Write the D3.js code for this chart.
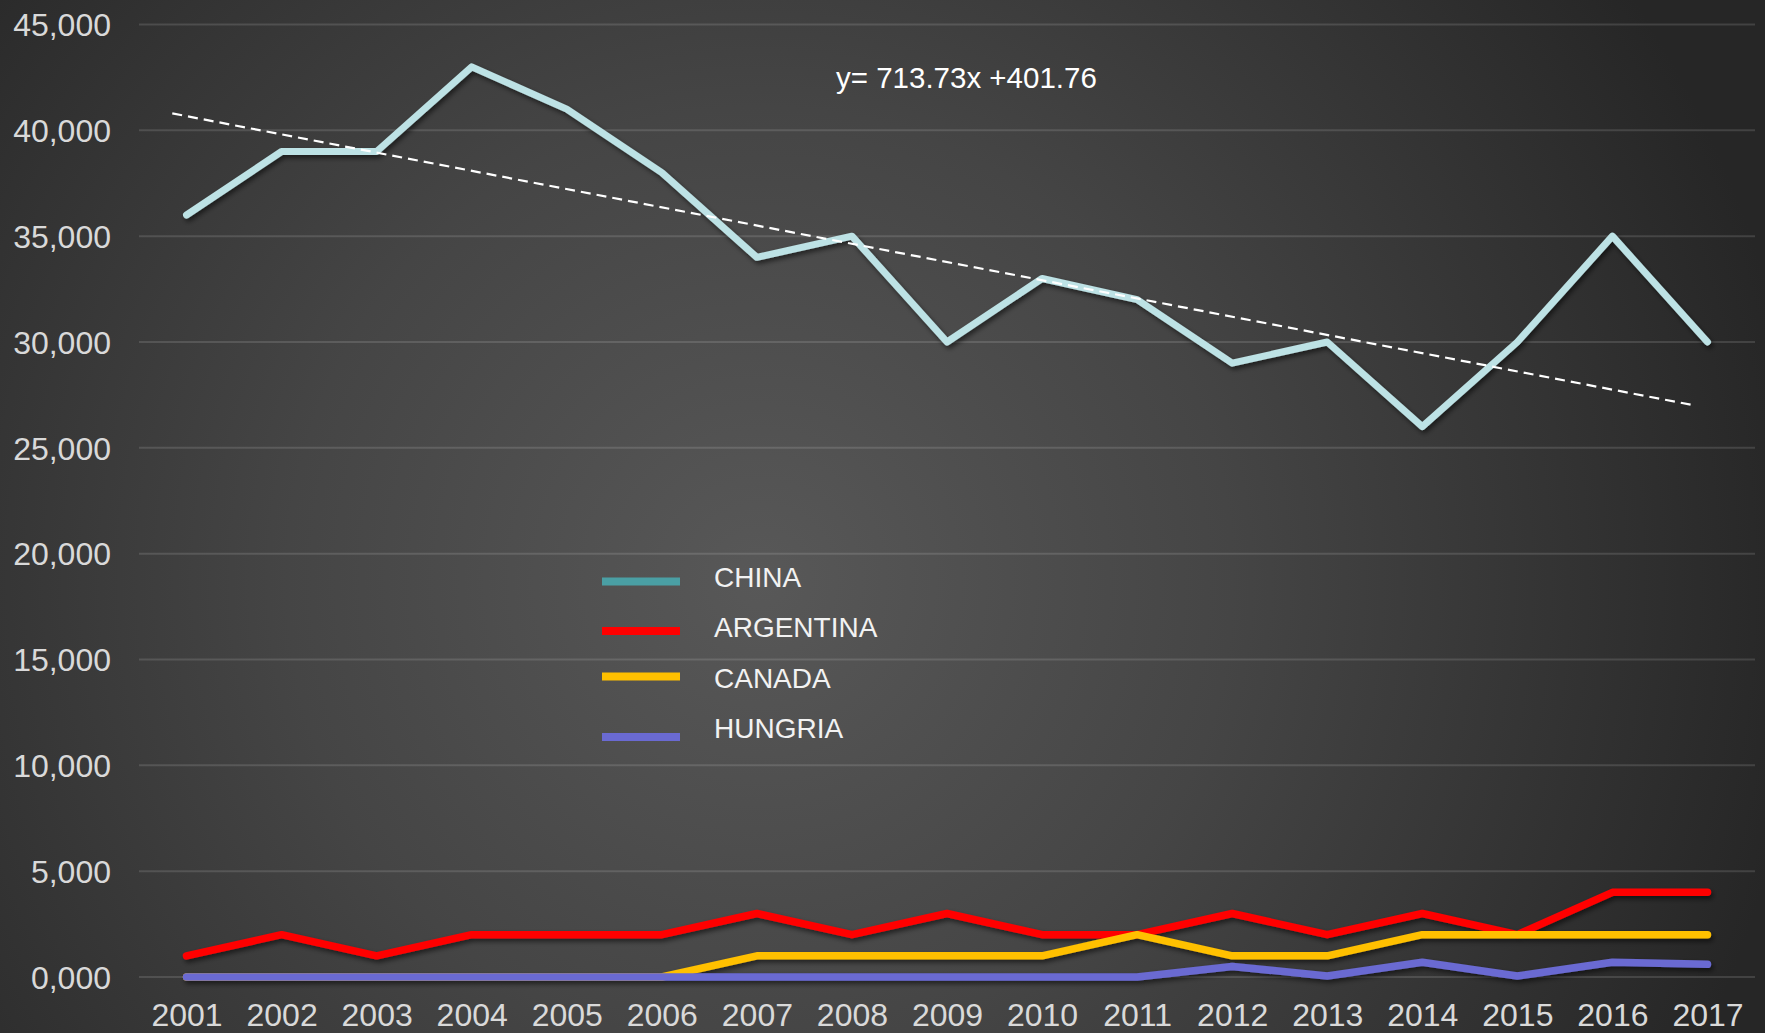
<!DOCTYPE html>
<html>
<head>
<meta charset="utf-8">
<script src="https://cdn.jsdelivr.net/npm/d3@7"></script>
<style>
  html, body { margin: 0; padding: 0; background: #2b2b2b; }
  svg { display: block; }
</style>
</head>
<body>
<svg id="chart" width="1765" height="1033"></svg>
<script>
// ---- DATA ----
const years = [2001, 2002, 2003, 2004, 2005, 2006, 2007, 2008, 2009, 2010, 2011, 2012, 2013, 2014, 2015, 2016, 2017];
const china     = [36000, 39000, 39000, 43000, 41000, 38000, 34000, 35000, 30000, 33000, 32000, 29000, 30000, 26000, 30000, 35000, 30000];
const argentina = [1000, 2000, 1000, 2000, 2000, 2000, 3000, 2000, 3000, 2000, 2000, 3000, 2000, 3000, 2000, 4000, 4000];
const canada    = [0, 0, 0, 0, 0, 0, 1000, 1000, 1000, 1000, 2000, 1000, 1000, 2000, 2000, 2000, 2000];
const hungria   = [0, 0, 0, 0, 0, 0, 0, 0, 0, 0, 0, 500, 50, 700, 50, 700, 600];
const seriesNames = ["CHINA", "ARGENTINA", "CANADA", "HUNGRIA"];
const yTicks = [0, 5000, 10000, 15000, 20000, 25000, 30000, 35000, 40000, 45000];
const yTickLabels = ["0,000", "5,000", "10,000", "15,000", "20,000", "25,000", "30,000", "35,000", "40,000", "45,000"];
const trendYears = [2000.85, 2016.87];
const trendValues = [40800, 27000];
const equationText = "y= 713.73x +401.76";

// ---- STYLES ----
const lineColors = ["#bde2e5", "#ff0000", "#ffc000", "#6a6ad2"];
const legendColors = ["#4a9fa4", "#ff0000", "#ffc000", "#6a6ad2"];
const lineWidths = [7, 7.5, 7.5, 7.5];

const svg = d3.select("#chart");
const W = 1765, H = 1033;
const plot = { left: 139, right: 1755, top: 24.5, bottom: 977 };

const defs = svg.append("defs");
const grad = defs.append("radialGradient")
  .attr("id", "bg").attr("gradientUnits", "userSpaceOnUse")
  .attr("cx", 760).attr("cy", 580).attr("r", 1050);
grad.append("stop").attr("offset", "0%").attr("stop-color", "#585858");
grad.append("stop").attr("offset", "45%").attr("stop-color", "#454545");
grad.append("stop").attr("offset", "100%").attr("stop-color", "#262626");

const filt = defs.append("filter").attr("id", "shadow")
  .attr("x", "-5%").attr("y", "-5%").attr("width", "110%").attr("height", "120%");
filt.append("feDropShadow").attr("dx", 2).attr("dy", 3).attr("stdDeviation", 2.5)
  .attr("flood-color", "#000").attr("flood-opacity", 0.55);

svg.append("rect").attr("width", W).attr("height", H).attr("fill", "url(#bg)");

const x = d3.scaleLinear().domain([2000.5, 2017.5]).range([plot.left, plot.right]);
const y = d3.scaleLinear().domain([0, 45000]).range([plot.bottom, plot.top]);

// gridlines
svg.append("g").selectAll("line").data(yTicks).join("line")
  .attr("x1", plot.left).attr("x2", plot.right)
  .attr("y1", d => y(d)).attr("y2", d => y(d))
  .attr("stroke", "rgba(255,255,255,0.13)").attr("stroke-width", 2);

// y axis
const yAxis = d3.axisLeft(y).tickValues(yTicks)
  .tickFormat((d, i) => yTickLabels[i]).tickSize(0).tickPadding(0);
const yg = svg.append("g").attr("transform", `translate(111,0)`).call(yAxis);
yg.select(".domain").remove();
yg.selectAll("text")
  .attr("fill", "#d9d9d9").attr("font-family", "Liberation Sans, Arial, sans-serif")
  .attr("font-size", 32).attr("dy", "0.35em");

// x axis
const xAxis = d3.axisBottom(x).tickValues(years).tickFormat(d3.format("d")).tickSize(0).tickPadding(0);
const xg = svg.append("g").attr("transform", `translate(0,${plot.bottom})`).call(xAxis);
xg.select(".domain").remove();
xg.selectAll("text")
  .attr("fill", "#d9d9d9").attr("font-family", "Liberation Sans, Arial, sans-serif")
  .attr("font-size", 32).attr("dy", null).attr("y", 49);

// series lines
const allSeries = [china, argentina, canada, hungria];
const line = d3.line().x((d, i) => x(years[i])).y(d => y(d));
const lg = svg.append("g").attr("filter", "url(#shadow)");
allSeries.forEach((s, k) => {
  lg.append("path").datum(s)
    .attr("d", line)
    .attr("fill", "none")
    .attr("stroke", lineColors[k])
    .attr("stroke-width", lineWidths[k])
    .attr("stroke-linejoin", "round")
    .attr("stroke-linecap", "round");
});

// trend line
const trendLine = d3.line().x((d, i) => x(trendYears[i])).y(d => y(d));
svg.append("path").datum(trendValues)
  .attr("d", trendLine)
  .attr("fill", "none")
  .attr("stroke", "#ffffff")
  .attr("stroke-width", 2.2)
  .attr("stroke-dasharray", "10,6");

// equation
svg.append("text")
  .attr("x", 836).attr("y", 88)
  .attr("fill", "#ffffff")
  .attr("font-family", "Liberation Sans, Arial, sans-serif")
  .attr("font-size", 29.5)
  .text(equationText);

// legend
const legendSwatchY = [581.5, 631, 676.5, 737];
const legendTextY = [577, 627, 678, 728];
const leg = svg.append("g");
seriesNames.forEach((name, k) => {
  leg.append("rect")
    .attr("x", 602).attr("y", legendSwatchY[k] - 4)
    .attr("width", 78).attr("height", 8)
    .attr("fill", legendColors[k]);
  leg.append("text")
    .attr("x", 714).attr("y", legendTextY[k])
    .attr("dy", "0.36em")
    .attr("fill", "#f2f2f2")
    .attr("font-family", "Liberation Sans, Arial, sans-serif")
    .attr("font-size", 28)
    .text(name);
});
</script>
</body>
</html>
